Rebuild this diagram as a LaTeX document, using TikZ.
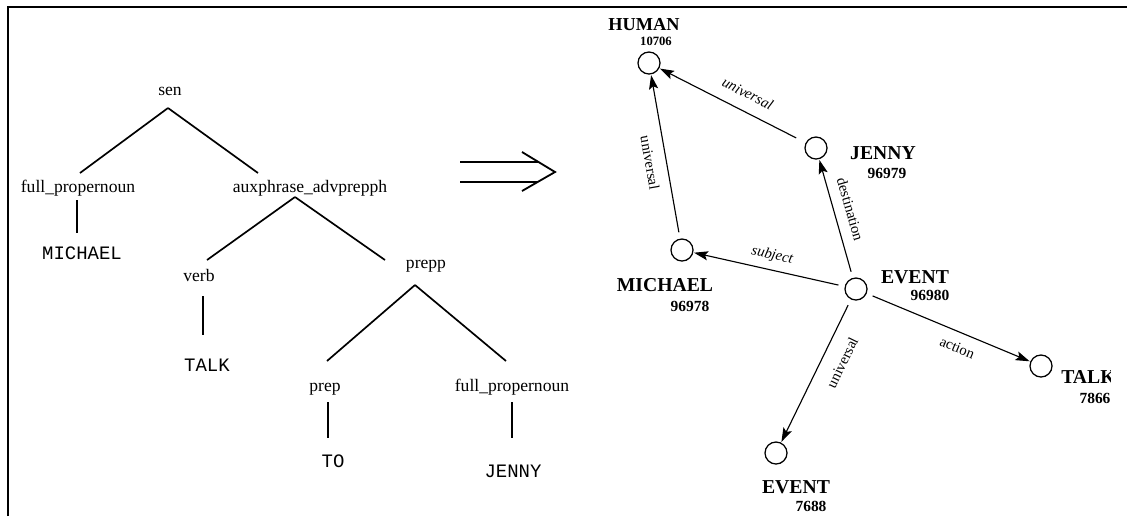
\documentclass[tikz,border=0pt]{standalone}
\usepackage{fontspec}
\setmainfont{Liberation Serif}
\setmonofont{Liberation Mono}
\usetikzlibrary{arrows.meta}

\tikzset{
  cat/.style={inner sep=0pt,text height=9pt,text depth=3pt,font=\fontsize{12.5}{14}\selectfont},
  word/.style={inner sep=0pt,font=\ttfamily\fontsize{13.5}{15}\selectfont},
  branch/.style={line width=1.2pt},
  concept/.style={draw,circle,minimum size=0.55cm,inner sep=0pt,line width=0.9pt},
  cname/.style={inner sep=0pt,font=\bfseries\fontsize{14}{16}\selectfont},
  cid/.style={inner sep=0pt,font=\bfseries\fontsize{11}{13}\selectfont},
  rel/.style={->,line width=0.8pt,shorten <=4.5pt,shorten >=0.5pt},
  rlab/.style={sloped,inner sep=0pt,font=\fontsize{10.5}{12}\selectfont},
}

\begin{document}
\begin{tikzpicture}[x=0.025cm,y=-0.025cm,>={Stealth[length=10pt,width=6.5pt,inset=2pt]}]
\useasboundingbox (0,0) rectangle (1127,516);
% frame, open at bottom and right
\draw[line width=1.4pt] (8,516) -- (8,7) -- (1127,7);

% (left) parse tree
\node[cat] (sen) at (170,91) {sen};
\node[cat] (fp1) at (78,188) {full\_propernoun};
\node[cat] (aux) at (310,188) {auxphrase\_advprepph};
\node[word] (mic) at (82,253) {MICHAEL};
\node[cat] (verb) at (199,277) {verb};
\node[cat] (prepp) at (426,264) {prepp};
\node[word] (talk) at (207,365) {TALK};
\node[cat] (prep) at (325,387) {prep};
\node[cat] (fp2) at (512,387) {full\_propernoun};
\node[word] (to) at (333,461) {TO};
\node[word] (jenny) at (513,471) {JENNY};

\draw[branch] ([shift={(-2,17)}]sen.center) -- ([shift={(2,-15)}]fp1.center);
\draw[branch] ([shift={(-2,17)}]sen.center) -- ([shift={(-52,-15)}]aux.center);
\draw[branch] ([shift={(-15,9)}]aux.center) -- ([shift={(8,-17)}]verb.center);
\draw[branch] ([shift={(-15,9)}]aux.center) -- ([shift={(-41,-4)}]prepp.center);
\draw[branch] ([shift={(-11,21)}]prepp.center) -- ([shift={(2,-26)}]prep.center);
\draw[branch] ([shift={(-11,21)}]prepp.center) -- ([shift={(-6,-26)}]fp2.center);
\draw[branch] ([shift={(-1,12)}]fp1.center) -- ([shift={(-5,-20)}]mic.center);
\draw[branch] ([shift={(4,19)}]verb.center) -- ([shift={(-4,-30)}]talk.center);
\draw[branch] ([shift={(3,15)}]prep.center) -- ([shift={(-5,-23)}]to.center);
\draw[branch] ([shift={(0,15)}]fp2.center) -- ([shift={(-1,-33)}]jenny.center);

% mapping arrow
\draw[line width=1.3pt] (460,162) -- (538,162) (460,182) -- (538,182);
\draw[line width=1.3pt] (522,152) -- (555,172) -- (522,191);

% (right) concept graph
\node[concept] (c-human) at (649,63) {};
\node[concept] (c-jenny) at (816,148) {};
\node[concept] (c-michael) at (682,250) {};
\node[concept] (c-event) at (856,289) {};
\node[concept] (c-talk) at (1041,366) {};
\node[concept] (c-event2) at (776,453) {};

\node[cname,font=\bfseries\fontsize{13}{15}\selectfont] (l-human) at (644,25) {HUMAN};
\node[cid,font=\bfseries\fontsize{9}{11}\selectfont] (n-human) at (656,41) {10706};
\node[cname] (l-jenny) at (883,153) {JENNY};
\node[cid] (n-jenny) at (887,173) {96979};
\node[cname] (l-michael) at (665,285) {MICHAEL};
\node[cid] (n-michael) at (690,306) {96978};
\node[cname] (l-event) at (915,277) {EVENT};
\node[cid] (n-event) at (930,295) {96980};
\begin{scope}
\clip (0,0) rectangle (1110,516);
\node[cname,anchor=west] (l-talk) at (1061,377) {TALK};
\end{scope}
\node[cid] (n-talk) at (1095,398) {7866};
\node[cname] (l-event2) at (796,487) {EVENT};
\node[cid] (n-event2) at (811,506) {7688};

\draw[rel,shorten <=7.5pt] (c-jenny) -- node[rlab,above=8.5pt,pos=0.45,font=\itshape\fontsize{10.5}{12}\selectfont] (e-univ1) {universal} (c-human);
\draw[rel] (c-michael) -- node[rlab,below=7.5pt,pos=0.48] (e-univ2) {universal} (c-human);
\draw[rel] (c-event) -- node[rlab,above=5pt,pos=0.5,font=\itshape\fontsize{10.5}{12}\selectfont] (e-subj) {subject} (c-michael);
\draw[rel] (c-event) -- node[rlab,above=7.5pt,pos=0.54] (e-dest) {destination} (c-jenny);
\draw[rel] (c-event) -- node[rlab,below=7pt,pos=0.59] (e-act) {action} (c-talk);
\draw[rel] (c-event) -- node[rlab,below=10pt,pos=0.38] (e-univ3) {universal} (c-event2);
\end{tikzpicture}
\end{document}
